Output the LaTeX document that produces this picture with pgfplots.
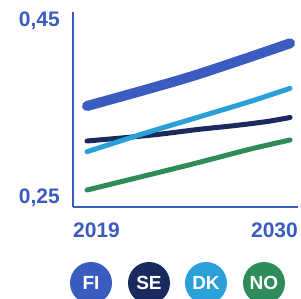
\documentclass[border=0pt]{standalone}
\usepackage{fontspec}
\setmainfont{Liberation Sans}
\usepackage{pgfplots}
\pgfplotsset{compat=1.18}
\definecolor{fiblue}{HTML}{3A5BBF}
\definecolor{senavy}{HTML}{1B2A5E}
\definecolor{dkblue}{HTML}{2A9FD8}
\definecolor{nogreen}{HTML}{2E8B5A}
\begin{document}
\begin{tikzpicture}
\path[use as bounding box] (0,0) rectangle (301pt,299pt);
\begin{axis}[
  at={(73pt,92pt)}, anchor=south west,
  scale only axis, width=225pt, height=195pt,
  xmin=2018.24, xmax=2030.43,
  ymin=0.25, ymax=0.45,
  axis x line*=bottom, axis y line*=left,
  axis line style={draw=fiblue, line width=1.8pt, -},
  ticks=none,
  clip=false,
  every axis plot/.append style={line cap=round, smooth, tension=0.5},
]
\addplot[draw=nogreen, line width=5pt] coordinates {(2019,0.2674) (2024.6,0.2935) (2027.8,0.3092) (2030,0.3187)};
\addplot[draw=senavy, line width=5pt] coordinates {(2019,0.3177) (2021,0.3210) (2023,0.3248) (2025,0.3295) (2027,0.3335) (2028.8,0.3378) (2030,0.3418)};
\addplot[draw=dkblue, line width=5pt] coordinates {(2019,0.3067) (2022,0.3249) (2024.7,0.3403) (2027.8,0.3580) (2030,0.3717)};
\addplot[draw=fiblue, line width=10pt] coordinates {(2019,0.3536) (2024.6,0.3836) (2030,0.4179)};
\node[anchor=north east, inner sep=0, text=fiblue, font=\fontsize{21}{21}\selectfont\bfseries, xshift=-13pt] at (rel axis cs:0,1) {0,45};
\node[anchor=south east, inner sep=0, text=fiblue, font=\fontsize{21}{21}\selectfont\bfseries, xshift=-13pt] at (rel axis cs:0,0) {0,25};
\node[anchor=north west, inner sep=0, text=fiblue, font=\fontsize{21}{21}\selectfont\bfseries, yshift=-16pt] at (rel axis cs:0,0) {2019};
\node[anchor=north east, inner sep=0, text=fiblue, font=\fontsize{21}{21}\selectfont\bfseries, yshift=-16pt] at (rel axis cs:1,0) {2030};
\tikzset{leg/.style={circle, inner sep=0, minimum size=42pt, text=white, font=\fontsize{19}{19}\selectfont\bfseries}}
\node[leg, fill=fiblue, xshift=18pt, yshift=-76pt] at (rel axis cs:0,0) {FI};
\node[leg, fill=senavy, xshift=76pt, yshift=-76pt] at (rel axis cs:0,0) {SE};
\node[leg, fill=dkblue, xshift=133pt, yshift=-76pt] at (rel axis cs:0,0) {DK};
\node[leg, fill=nogreen, xshift=191pt, yshift=-76pt] at (rel axis cs:0,0) {NO};
\end{axis}
\end{tikzpicture}
\end{document}
